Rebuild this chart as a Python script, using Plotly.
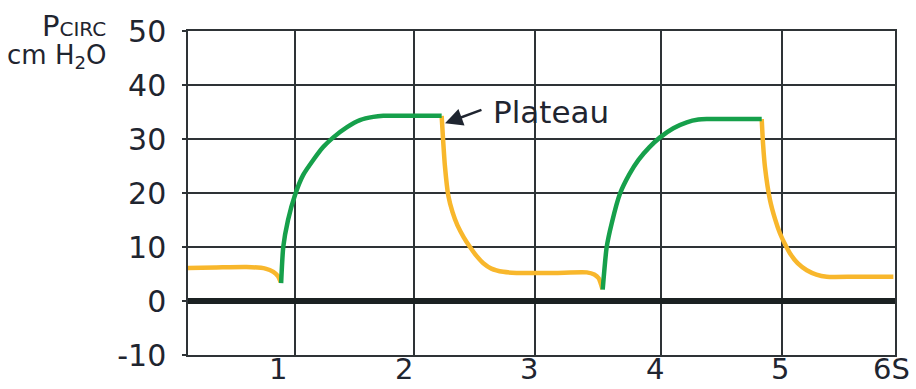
import plotly.graph_objects as go

# ---- data (time in s, pressure in cm H2O) ----
t_exp1 = [0.283, 0.5, 0.75, 0.9, 0.963, 1.0, 1.022]
p_exp1 = [6.1, 6.2, 6.3, 6.0, 5.4, 4.6, 3.5]

t_insp1 = [1.025, 1.042, 1.08, 1.135, 1.2, 1.281, 1.36, 1.441, 1.55, 1.653, 1.759, 1.839, 2.0, 2.304]
p_insp1 = [3.3, 10.0, 15.0, 19.6, 23.3, 26.1, 28.5, 30.3, 32.2, 33.5, 34.1, 34.3, 34.3, 34.3]

t_exp2 = [2.304, 2.315, 2.33, 2.357, 2.39, 2.43, 2.48, 2.53, 2.58, 2.636, 2.70, 2.795, 2.9, 3.2, 3.46, 3.52, 3.555, 3.575, 3.585]
p_exp2 = [34.3, 30.0, 25.0, 19.5, 16.5, 14.0, 11.8, 10.0, 8.4, 7.0, 6.0, 5.4, 5.2, 5.2, 5.3, 4.9, 4.2, 3.0, 2.2]

t_insp2 = [3.587, 3.619, 3.66, 3.725, 3.80, 3.871, 3.96, 4.044, 4.15, 4.257, 4.35, 4.416, 4.6, 4.854]
p_insp2 = [2.1, 10.0, 14.5, 19.9, 23.5, 26.1, 28.5, 30.3, 32.0, 33.1, 33.6, 33.7, 33.7, 33.7]

t_exp3 = [4.854, 4.865, 4.880, 4.92, 4.96, 5.0, 5.04, 5.08, 5.14, 5.213, 5.29, 5.372, 5.6, 5.903]
p_exp3 = [33.7, 29.0, 24.8, 18.7, 15.2, 12.5, 10.5, 8.8, 7.0, 5.7, 4.9, 4.5, 4.5, 4.5]

x_grid = [1.135, 2.084, 3.048, 4.052, 5.016]
x_label_pos = [1, 2, 3, 4, 5, 5.89]
x_label_text = ["1", "2", "3", "4", "5", "6S"]
y_ticks = [-10, 0, 10, 20, 30, 40, 50]
y_tick_text = ["-10", "0", "10", "20", "30", "40", "50"]

GREEN = "#16a04b"
ORANGE = "#f8b72c"
INK = "#1f2530"
GRID = "#2e3336"
FONT = "DejaVu Sans"

fig = go.Figure()
for t, p in [(t_exp1, p_exp1), (t_exp2, p_exp2), (t_exp3, p_exp3)]:
    fig.add_trace(go.Scatter(x=t, y=p, mode="lines",
                             line=dict(color=ORANGE, width=4.5, shape="spline", smoothing=0.6),
                             showlegend=False, hoverinfo="skip"))
for t, p in [(t_insp1, p_insp1), (t_insp2, p_insp2)]:
    fig.add_trace(go.Scatter(x=t, y=p, mode="lines",
                             line=dict(color=GREEN, width=4.5, shape="spline", smoothing=0.6),
                             showlegend=False, hoverinfo="skip"))

fig.update_layout(
    width=916, height=389,
    margin=dict(l=188, r=21, t=31, b=34),
    paper_bgcolor="white", plot_bgcolor="white",
    font=dict(family=FONT, color=INK),
    xaxis=dict(range=[0.283, 5.916], tickvals=x_grid, showticklabels=False,
               showgrid=True, gridcolor=GRID, gridwidth=1.5, zeroline=False,
               showline=True, mirror=True, linecolor=GRID, linewidth=1.5, ticks=""),
    yaxis=dict(range=[-10, 50], tickvals=y_ticks, ticktext=y_tick_text,
               showgrid=True, gridcolor=GRID, gridwidth=1.5,
               zeroline=True, zerolinecolor="#1b2122", zerolinewidth=6,
               showline=True, mirror=True, linecolor=GRID, linewidth=1.5,
               ticks="outside", ticklen=4, tickcolor=GRID, tickwidth=1.5,
               ticklabelstandoff=10,
               tickfont=dict(family=FONT, size=30, color=INK)),
)

for xp, txt in zip(x_label_pos, x_label_text):
    fig.add_annotation(x=xp, xref="x", y=0, yref="paper", yshift=-33,
                       text=txt, showarrow=False, xanchor="center", yanchor="bottom",
                       font=dict(family=FONT, size=29, color=INK))

# axis title
fig.add_annotation(x=-0.113, xref="paper", y=1.014, yref="paper",
                   text="P<span style='font-size:20px'>CIRC</span>",
                   showarrow=False, xanchor="right", yanchor="middle",
                   font=dict(family=FONT, size=29, color=INK))
fig.add_annotation(x=-0.113, xref="paper", y=0.92, yref="paper",
                   text="cm H<sub>2</sub>O",
                   showarrow=False, xanchor="right", yanchor="middle",
                   font=dict(family=FONT, size=26, color=INK))

# Plateau label and arrow
fig.add_annotation(x=2.70, y=35.0, xref="x", yref="y", text="Plateau",
                   showarrow=False, xanchor="left", yanchor="middle",
                   font=dict(family=FONT, size=31, color=INK))
fig.add_annotation(x=2.331, y=32.9, ax=2.633, ay=35.5, xref="x", yref="y",
                   axref="x", ayref="y", text="", showarrow=True,
                   arrowhead=2, arrowsize=1.4, arrowwidth=2.5, arrowcolor=INK)

fig.write_html("out.html", config={"displayModeBar": False})

# remove the browser's default 8px body margin so the figure fills the window
with open("out.html", "r", encoding="utf-8") as f:
    html = f.read()
html = html.replace("<head>", "<head><style>html,body{margin:0;padding:0;overflow:hidden;}</style>", 1)
with open("out.html", "w", encoding="utf-8") as f:
    f.write(html)
